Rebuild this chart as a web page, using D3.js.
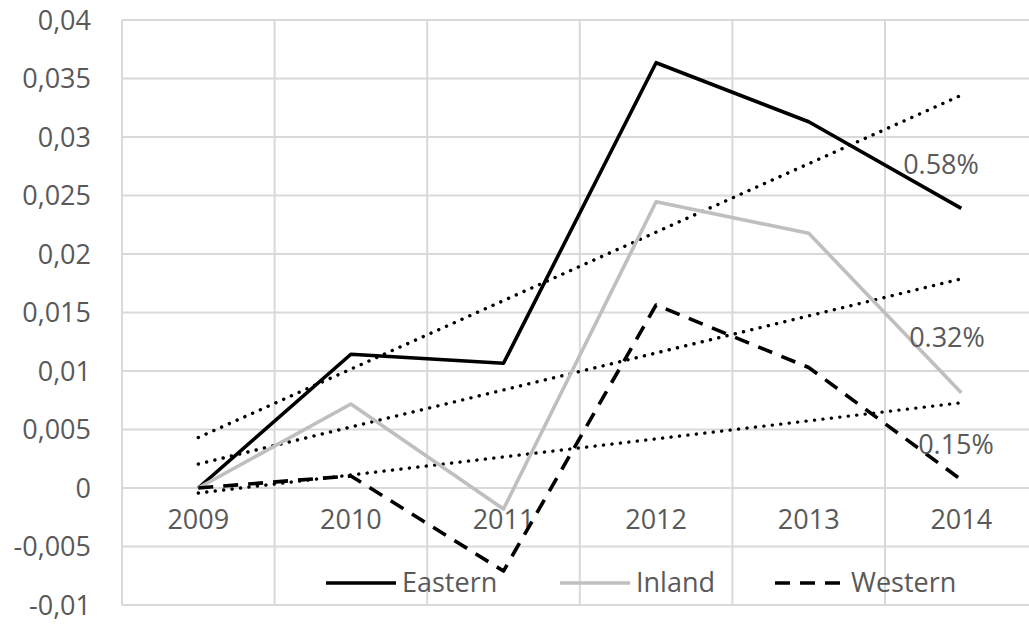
<!DOCTYPE html>
<html>
<head>
<meta charset="utf-8">
<script src="https://cdn.jsdelivr.net/npm/d3@7"></script>
<style>
  html, body { margin: 0; padding: 0; background: #fff; }
  svg { display: block; }
  text { font-family: "Open Sans", sans-serif; fill: #595959; }
</style>
</head>
<body>
<svg id="chart" width="1029" height="624"></svg>
<script>
// Yearly values per region
const years = ["2009", "2010", "2011", "2012", "2013", "2014"];
const eastern = [0, 0.01143, 0.01066, 0.03635, 0.0313, 0.0239];
const inland  = [0, 0.00718, -0.0018, 0.02447, 0.02177, 0.00815];
const western = [0, 0.00103, -0.0071, 0.01564, 0.0103, 0.0007];

const seriesNames = ["Eastern", "Inland", "Western"];
const slopeLabels = ["0.58%", "0.32%", "0.15%"];

const yTicks = [-0.01, -0.005, 0, 0.005, 0.01, 0.015, 0.02, 0.025, 0.03, 0.035, 0.04];
const yTickLabels = ["-0,01", "-0,005", "0", "0,005", "0,01", "0,015", "0,02", "0,025", "0,03", "0,035", "0,04"];

const svg = d3.select("#chart");
const plot = { left: 122, right: 1037.6, top: 20, bottom: 605 };

const x = d3.scaleBand().domain(years).range([plot.left, plot.right]);
const y = d3.scaleLinear().domain([-0.01, 0.04]).range([plot.bottom, plot.top]);
const cx = d => x(d) + x.bandwidth() / 2;

const grid = "#d9d9d9";

// horizontal gridlines
svg.append("g").selectAll("line").data(yTicks).join("line")
  .attr("x1", plot.left).attr("x2", plot.right)
  .attr("y1", d => y(d)).attr("y2", d => y(d))
  .attr("stroke", grid).attr("stroke-width", 2);

// vertical gridlines at category boundaries
const bounds = years.map(d => x(d)).concat([plot.right]);
svg.append("g").selectAll("line").data(bounds).join("line")
  .attr("x1", d => d).attr("x2", d => d)
  .attr("y1", plot.top).attr("y2", plot.bottom)
  .attr("stroke", grid).attr("stroke-width", 2);

// value axis
const yAxis = d3.axisLeft(y).tickValues(yTicks).tickSize(0).tickPadding(31)
  .tickFormat((d, i) => yTickLabels[i]);
const ya = svg.append("g").attr("transform", `translate(${plot.left},0)`).call(yAxis);
ya.select(".domain").remove();
ya.selectAll("text").attr("font-size", 27).attr("font-family", "Open Sans").attr("fill", "#595959").attr("dy", "0.35em");

// category axis crossing at zero
const xAxis = d3.axisBottom(x).tickSize(0).tickPadding(22);
const xa = svg.append("g").attr("transform", `translate(0,${y(0)})`).call(xAxis);
xa.select(".domain").remove();
xa.selectAll("text").attr("font-size", 27).attr("font-family", "Open Sans").attr("fill", "#595959");

const seriesValues = [eastern, inland, western];
const styles = [
  { color: "#000000", dash: null },
  { color: "#bfbfbf", dash: null },
  { color: "#000000", dash: "15,10" }
];

// least-squares trend for each series
function trend(vals) {
  const n = vals.length;
  const xs = vals.map((_, i) => i + 1);
  const mx = d3.mean(xs), my = d3.mean(vals);
  const sxy = d3.sum(xs, (xi, i) => (xi - mx) * (vals[i] - my));
  const sxx = d3.sum(xs, xi => (xi - mx) * (xi - mx));
  const b = sxy / sxx, a = my - b * mx;
  return vals.map((_, i) => a + b * (i + 1));
}

const line = d3.line().x((d, i) => cx(years[i])).y(d => y(d));

// trend lines
seriesValues.forEach(vals => {
  const t = trend(vals);
  svg.append("path").datum([t[0], t[t.length - 1]])
    .attr("d", d3.line().x((d, i) => cx(years[i === 0 ? 0 : years.length - 1])).y(d => y(d)))
    .attr("fill", "none").attr("stroke", "#000").attr("stroke-width", 3.4)
    .attr("stroke-linecap", "round").attr("stroke-dasharray", "0.1,8.4");
});

// series lines
seriesValues.forEach((vals, k) => {
  const p = svg.append("path").datum(vals).attr("d", line)
    .attr("fill", "none").attr("stroke", styles[k].color).attr("stroke-width", 3.6)
    .attr("stroke-linejoin", "round");
  if (styles[k].dash) p.attr("stroke-dasharray", styles[k].dash);
});

// slope labels
const slopePos = [
  { x: 941, y: 165 },
  { x: 947, y: 338 },
  { x: 956, y: 445 }
];
svg.append("g").selectAll("text").data(slopeLabels).join("text")
  .attr("x", (d, i) => slopePos[i].x).attr("y", (d, i) => slopePos[i].y)
  .attr("dy", "0.35em").attr("text-anchor", "middle").attr("font-size", 27)
  .text(d => d);

// legend
const legendItems = [
  { x: 326, color: "#000000", dash: null },
  { x: 560, color: "#bfbfbf", dash: null },
  { x: 775, color: "#000000", dash: "15,10" }
];
const ly = 583;
const lg = svg.append("g");
legendItems.forEach((it, i) => {
  const l = lg.append("line").attr("x1", it.x).attr("x2", it.x + 70)
    .attr("y1", ly).attr("y2", ly)
    .attr("stroke", it.color).attr("stroke-width", 3.6);
  if (it.dash) l.attr("stroke-dasharray", it.dash);
  lg.append("text").attr("x", it.x + 76).attr("y", ly).attr("dy", "0.35em")
    .attr("font-size", 27).text(seriesNames[i]);
});
</script>
</body>
</html>
